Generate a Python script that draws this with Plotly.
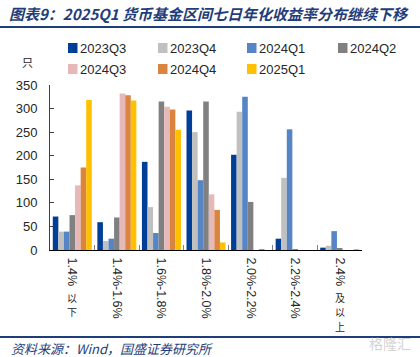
import re
import plotly.graph_objects as go

# ---------------- data ----------------
categories = ["1.4%以下", "1.4%-1.6%", "1.6%-1.8%", "1.8%-2.0%", "2.0%-2.2%", "2.2%-2.4%", "2.4%及以上"]
series_names = ["2023Q3", "2023Q4", "2024Q1", "2024Q2", "2024Q3", "2024Q4", "2025Q1"]
v_2023Q3 = [71, 59, 187, 296, 202, 24, 5]
v_2023Q4 = [39, 19, 91, 250, 293, 153, 9]
v_2024Q1 = [39, 24, 36, 148, 325, 256, 40]
v_2024Q2 = [74, 69, 315, 315, 102, 2, 3]
v_2024Q3 = [137, 332, 304, 118, 0, 0, 0]
v_2024Q4 = [175, 328, 298, 85, 1, 0, 0]
v_2025Q1 = [318, 317, 255, 16, 0, 0, 2]
y_ticks = [0, 50, 100, 150, 200, 250, 300, 350]
unit_label = "只"
title_text = "图表9：2025Q1 货币基金区间七日年化收益率分布继续下移"
source_text = "资料来源：Wind，国盛证券研究所"

series_values = [v_2023Q3, v_2023Q4, v_2024Q1, v_2024Q2, v_2024Q3, v_2024Q4, v_2025Q1]
colors = ["#003f98", "#c0c0c0", "#5585c5", "#808080", "#e6b8b7", "#d9843f", "#ffc000"]

# ---------------- layout helpers ----------------
W, H = 420, 357
L, R, T, B = 50, 58, 85, 107
PW, PH = W - L - R, H - T - B


def px(x):
    return (x - L) / PW


def py(y):
    return (H - B - y) / PH


NAVY = "#1f3d7a"
TXT = "#262626"
LAT = "Liberation Sans, Arial, sans-serif"
CJK = "Noto Sans CJK SC, sans-serif"

fig = go.Figure()
for name, vals, col in zip(series_names, series_values, colors):
    fig.add_trace(go.Bar(x=categories, y=vals, name=name, marker_color=col,
                         marker_line_width=0, showlegend=False))

# split labels into latin part (rotated tick) and CJK part (upright)
lat_parts, cjk_parts = [], []
for c in categories:
    m = re.match(r"^([0-9.%\-]+)(.*)$", c)
    lat_parts.append(m.group(1))
    cjk_parts.append(m.group(2))

annotations = []
shapes = []

# title
annotations.append(dict(text="<b><i>" + title_text + "</i></b>", x=px(7), y=py(13),
                        xref="paper", yref="paper", xanchor="left", yanchor="middle",
                        showarrow=False, font=dict(family=CJK, size=15, color=NAVY)))
shapes.append(dict(type="line", xref="paper", yref="paper", x0=px(0), x1=px(W),
                   y0=py(27), y1=py(27), line=dict(color=NAVY, width=2)))
# source line + text
shapes.append(dict(type="line", xref="paper", yref="paper", x0=px(0), x1=px(W),
                   y0=py(337), y1=py(337), line=dict(color=NAVY, width=2)))
annotations.append(dict(text="<i>" + source_text + "</i>", x=px(9), y=py(348),
                        xref="paper", yref="paper", xanchor="left", yanchor="middle",
                        showarrow=False, font=dict(family=CJK, size=13, color=NAVY)))
# watermark
annotations.append(dict(text="格隆汇", x=px(413), y=py(343), xref="paper", yref="paper",
                        xanchor="right", yanchor="middle", showarrow=False,
                        font=dict(family=CJK, size=14, color="rgba(190,190,190,0.7)")))
# unit
annotations.append(dict(text=unit_label, x=px(27), y=py(62), xref="paper", yref="paper",
                        xanchor="center", yanchor="middle", showarrow=False,
                        font=dict(family=CJK, size=11, color=TXT)))

# legend (manual)
col_x = [68, 158, 247, 338]
row_y = [48, 69]
for i, (name, col) in enumerate(zip(series_names, colors)):
    cx = col_x[i % 4]
    cy = row_y[i // 4]
    shapes.append(dict(type="rect", xref="paper", yref="paper", x0=px(cx), x1=px(cx + 9.5),
                       y0=py(cy + 5), y1=py(cy - 5), fillcolor=col, line=dict(width=0)))
    annotations.append(dict(text=name, x=px(cx + 10), y=py(cy), xref="paper", yref="paper",
                            xanchor="left", yanchor="middle", showarrow=False,
                            font=dict(family=LAT, size=13, color=TXT)))

# upright CJK parts of category labels (one character per annotation)
for c, part in zip(categories, cjk_parts):
    for k, ch in enumerate(part):
        annotations.append(dict(text=ch, x=c, xref="x", y=py(297 + 14.6 * k),
                                yref="paper", xanchor="center", yanchor="middle",
                                showarrow=False, borderpad=0,
                                font=dict(family=CJK, size=10, color=TXT)))

fig.update_layout(
    width=W, height=H,
    margin=dict(l=L, r=R, t=T, b=B, autoexpand=False),
    paper_bgcolor="white", plot_bgcolor="white",
    barmode="group", bargap=0.125, bargroupgap=0,
    annotations=annotations, shapes=shapes,
    showlegend=False,
)
fig.update_xaxes(type="category", tickvals=categories, ticktext=lat_parts,
                 tickangle=90, tickfont=dict(family=LAT, size=12.5, color=TXT),
                 showline=True, linecolor="#000000", linewidth=1,
                 ticks="inside", tickson="boundaries", ticklen=5, tickcolor="#7f7f7f",
                 showgrid=False, ticklabelstandoff=4)
fig.update_yaxes(range=[0, 350], tickvals=y_ticks, ticks="inside", ticklen=4,
                 tickcolor="#404040", showline=True, linecolor="#404040", linewidth=1,
                 showgrid=False, zeroline=False,
                 tickfont=dict(family=LAT, size=13, color=TXT), ticklabelstandoff=9)

fig.write_html("out.html", config={"displayModeBar": False},
               post_script="document.body.style.margin='0';document.body.style.overflow='hidden';")
